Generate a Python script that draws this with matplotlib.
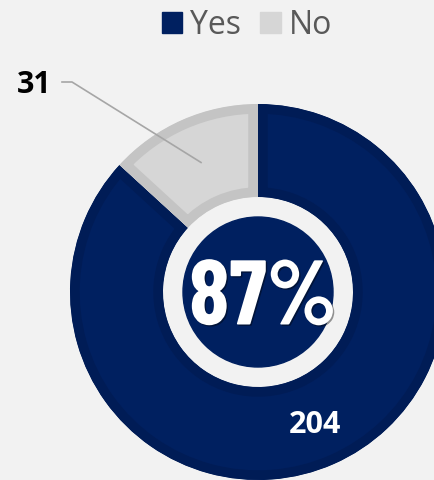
import numpy as np
import matplotlib.pyplot as plt
from matplotlib.patches import Circle, Rectangle
import matplotlib.patheffects as pe

# --- Data ---
categories = ["Yes", "No"]
counts = [204, 31]
fill_colors = ["#002060", "#d6d6d6"]
edge_colors = ["#001c56", "#c4c4c4"]

W, H = 434, 480
fig = plt.figure(figsize=(W / 100, H / 100), dpi=100)
fig.patch.set_facecolor("#f2f2f2")
ax = fig.add_axes([0, 0, 1, 1])

cx, cy = 258, H - 292
r_out, r_in = 188, 95

wedges, _ = ax.pie(counts, startangle=90, counterclock=False, center=(cx, cy),
                   radius=r_out, colors=fill_colors, frame=True,
                   wedgeprops=dict(width=r_out - r_in))
ax.set_xlim(0, W)
ax.set_ylim(0, H)
ax.set_aspect("equal")
ax.axis("off")

# inner stroke: thick edge clipped to the wedge itself
for w, ec in zip(wedges, edge_colors):
    w.set_edgecolor(ec)
    w.set_linewidth(14)
    w.set_clip_on(True)
    w.set_clip_path(w)

# center disc
ax.add_patch(Circle((cx, cy), 75, color="#002060", zorder=3))
pct = round(counts[0] / sum(counts) * 100)
ax.text(cx + 5, cy - 9, f"{pct}%", ha="center", va="center", color="white",
        fontsize=66, fontweight="bold",
        family=["Barlow Condensed", "DejaVu Sans"], zorder=4,
        path_effects=[pe.withSimplePatchShadow(offset=(1, -1), shadow_rgbFace="black", alpha=0.4)])

# slice labels
total = sum(counts)
r_mid = (r_out + r_in) / 2
start = 90
angles = []
for c in counts:
    sweep = c / total * 360
    angles.append(np.deg2rad(start - sweep / 2))
    start -= sweep

# Yes label inside ring
a = angles[0]
ax.text(cx + r_mid * np.cos(a), cy + r_mid * np.sin(a) - 3, str(counts[0]),
        ha="center", va="center", color="white", fontsize=22, fontweight="bold",
        family="Open Sans", zorder=5)

# No label with leader line
a = angles[1]
px, py = cx + r_mid * np.cos(a), cy + r_mid * np.sin(a)
ax.plot([px, 72, 62], [py, H - 82, H - 82], color="#a6a6a6", lw=1.2, zorder=5)
ax.text(34, H - 85, str(counts[1]), ha="center", va="center", color="black",
        fontsize=22, fontweight="bold", family="Open Sans", zorder=5)

# legend
handles = [Rectangle((0, 0), 1, 1, color=c) for c in fill_colors]
leg = fig.legend(handles, categories, loc="upper center", ncol=2,
                 bbox_to_anchor=(247 / W, 1 + 4 / H), frameon=False,
                 prop=dict(family="Open Sans", size=23),
                 handlelength=0.64, handleheight=0.64, handletextpad=0.25,
                 columnspacing=0.6, borderaxespad=0)
for t in leg.get_texts():
    t.set_color("#595959")

fig.savefig("out.png", dpi=100, facecolor=fig.get_facecolor())
